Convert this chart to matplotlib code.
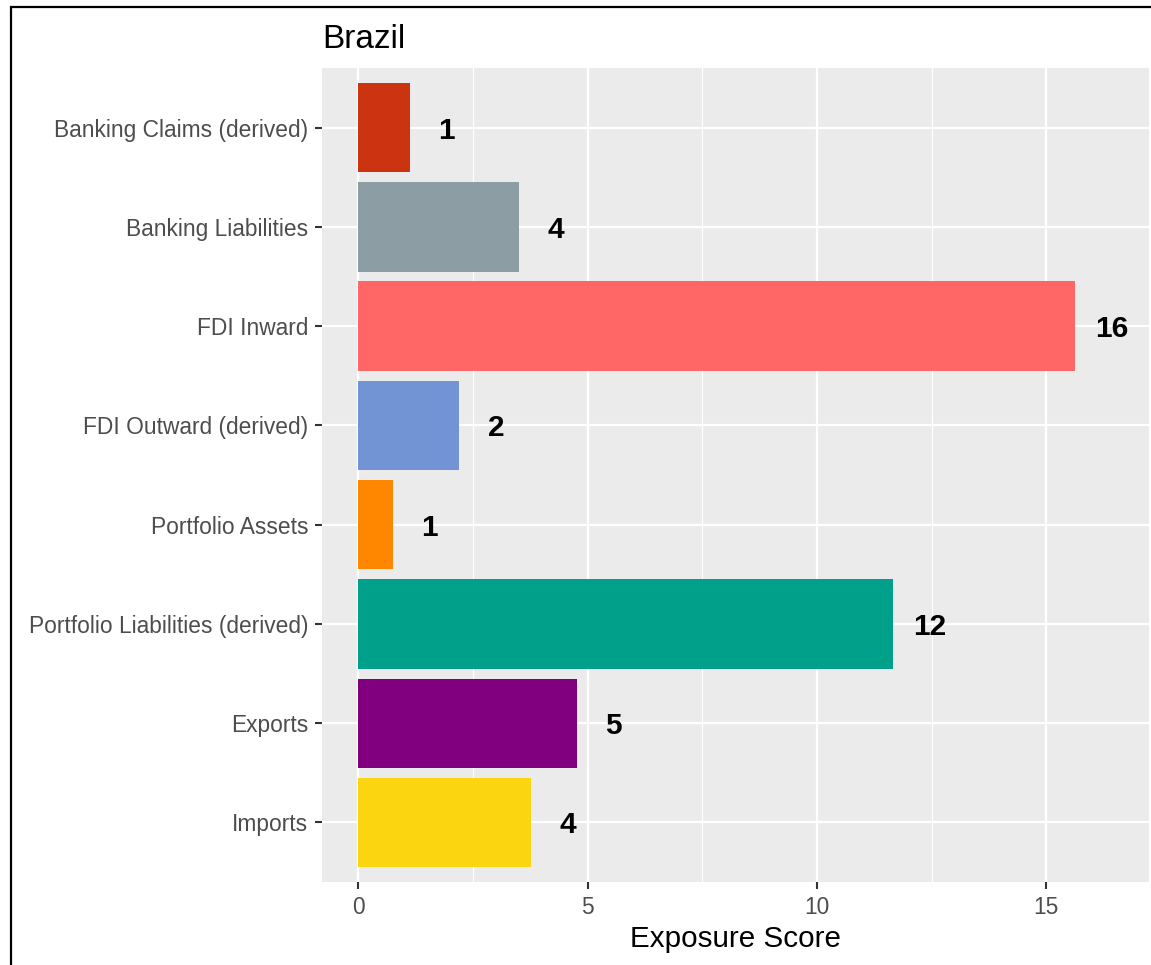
import matplotlib
matplotlib.use("Agg")
import numpy as np
import matplotlib.pyplot as plt
from matplotlib.patches import Rectangle

plt.rcParams['font.family'] = ['Liberation Sans', 'DejaVu Sans']

# Exposure scores per channel (top to bottom)
categories = [
    "Banking Claims (derived)",
    "Banking Liabilities",
    "FDI Inward",
    "FDI Outward (derived)",
    "Portfolio Assets",
    "Portfolio Liabilities (derived)",
    "Exports",
    "Imports",
]
scores = [1.13, 3.51, 15.62, 2.20, 0.76, 11.66, 4.77, 3.76]
bar_colors = ["#CC3311", "#8C9EA3", "#FF6666", "#7294D4",
              "#FF8700", "#00A08A", "#800080", "#FAD510"]
x_ticks = [0, 5, 10, 15]

W, H = 1151, 965
fig = plt.figure(figsize=(W / 100, H / 100), dpi=100)
fig.patch.set_facecolor("white")

# panel position in pixels
left, right, top, bottom = 322, 1149, 68, 882
ax = fig.add_axes([left / W, 1 - bottom / H, (right - left) / W, (bottom - top) / H])
ax.set_facecolor("#EBEBEB")

y = np.arange(len(categories))
ax.barh(y, scores, height=0.9, color=bar_colors, zorder=3)

for yi, v in zip(y, scores):
    ax.text(v + 0.8, yi, f"{round(v)}", ha="center", va="center_baseline",
            fontsize=21.5, fontweight="bold", color="black", zorder=4)

ax.set_xlim(-0.79, 17.24)
ax.set_ylim(len(categories) - 0.4, -0.6)

ax.set_xticks(x_ticks)
ax.set_xticks([2.5, 7.5, 12.5], minor=True)
ax.set_yticks(y)
ax.set_yticklabels(categories)

ax.grid(which="major", color="white", linewidth=1.6, zorder=1)
ax.grid(which="minor", axis="x", color="white", linewidth=0.8, zorder=1)
ax.set_axisbelow(True)

for s in ax.spines.values():
    s.set_visible(False)

ax.tick_params(which="major", length=5, width=1.5, color="#333333",
               labelsize=16.4, labelcolor="#4D4D4D", pad=5)
ax.tick_params(which="minor", length=0)

# title and axis label
fig.text(left / W, 1 - 48 / H, "Brazil", fontsize=24, va="baseline", ha="left")
fig.text((left + right) / 2 / W, 1 - 947 / H, "Exposure Score", fontsize=21.3,
         va="baseline", ha="center")

# outer frame
fig.patches.append(Rectangle((10.5 / W, -0.1), 1.2, 1 - 6.5 / H + 0.1,
                             transform=fig.transFigure, fill=False,
                             edgecolor="black", linewidth=1.6))

fig.savefig("out.png", dpi=100)
